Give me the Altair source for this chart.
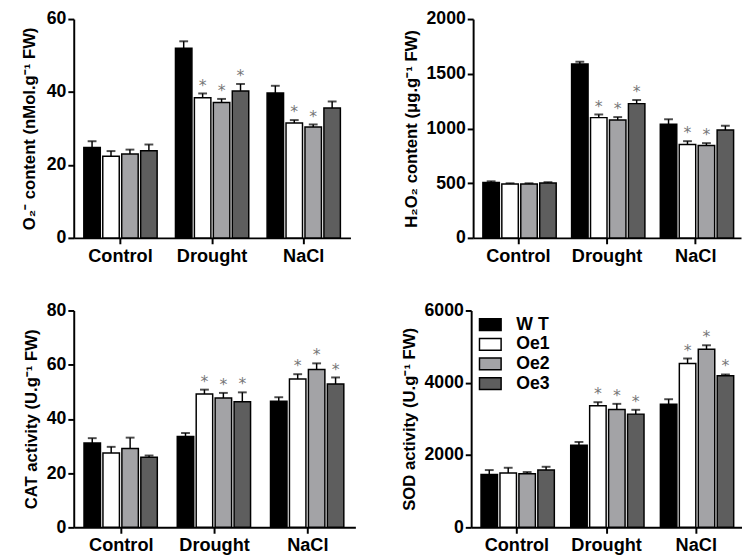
import altair as alt
import pandas as pd

groups = ["Control", "Drought", "NaCl"]
lines = ["W T", "Oe1", "Oe2", "Oe3"]
colors = ["#000000", "#ffffff", "#a3a3a6", "#5e5e5e"]

o2_mean = [24.8, 22.4, 23.0, 23.9, 52.0, 38.4, 37.1, 40.3, 39.7, 31.5, 30.4, 35.6]
o2_err = [1.7, 1.4, 1.2, 1.7, 1.9, 1.2, 1.0, 1.9, 2.0, 0.8, 0.7, 1.8]
o2_sig = [0, 0, 0, 0, 0, 1, 1, 1, 0, 1, 1, 0]

h2o2_mean = [507, 493, 493, 501, 1590, 1099, 1078, 1227, 1039, 854, 845, 985]
h2o2_err = [10, 6, 6, 8, 20, 29, 26, 33, 45, 30, 21, 39]
h2o2_sig = [0, 0, 0, 0, 0, 1, 1, 1, 0, 1, 1, 0]

cat_mean = [31.1, 27.4, 29.1, 25.9, 33.5, 49.2, 47.7, 46.3, 46.5, 54.7, 58.2, 52.9]
cat_err = [1.8, 2.3, 4.0, 0.6, 1.3, 1.6, 1.9, 3.5, 1.5, 1.8, 2.3, 2.4]
cat_sig = [0, 0, 0, 0, 0, 1, 1, 1, 0, 1, 1, 1]

sod_mean = [1466, 1502, 1484, 1585, 2272, 3362, 3261, 3133, 3408, 4534, 4928, 4195]
sod_err = [119, 147, 46, 91, 91, 101, 156, 119, 137, 138, 110, 37]
sod_sig = [0, 0, 0, 0, 0, 1, 1, 1, 0, 1, 1, 1]

FONT = "Liberation Sans"


def panel(mean, err, sig, title, ymax, ticks, width, height, show_legend=False,
          title_pad=6):
    rows = []
    i = 0
    for g in groups:
        for ln in lines:
            rows.append({"group": g, "line": ln, "mean": mean[i],
                         "top": mean[i] + err[i], "sig": sig[i]})
            i += 1
    df = pd.DataFrame(rows)
    base = alt.Chart(df).encode(
        x=alt.X("group:N", sort=groups, title=None,
                scale=alt.Scale(paddingInner=0.2, paddingOuter=0.11),
                axis=alt.Axis(labelAngle=0, labelFontSize=18.5, labelPadding=3)),
        xOffset=alt.XOffset("line:N", sort=lines,
                            scale=alt.Scale(paddingInner=0.13, paddingOuter=0.0)),
    )
    yscale = alt.Scale(domain=[0, ymax], nice=False)
    if show_legend:
        legend = alt.Legend(
            title=None, orient="none", legendX=9, legendY=4,
            symbolType="M-1.16,-0.63H1.16V0.63H-1.16Z", symbolSize=361,
            symbolStrokeColor="black", symbolStrokeWidth=1.5,
            labelFontSize=18, labelFontWeight="bold", labelFont=FONT,
            labelColor="black", rowPadding=0, labelOffset=16,
        )
        color = alt.Color("line:N", sort=lines,
                          scale=alt.Scale(domain=lines, range=colors),
                          legend=legend)
    else:
        color = alt.Color("line:N", sort=lines,
                          scale=alt.Scale(domain=lines, range=colors),
                          legend=None)
    bars = base.mark_bar(stroke="black", strokeWidth=1.5).encode(
        y=alt.Y("mean:Q", scale=yscale, title=title,
                axis=alt.Axis(values=ticks, format="d", titlePadding=title_pad)),
        color=color,
    )
    rules = base.mark_rule(strokeWidth=1.5, color="black").encode(
        y=alt.Y("mean:Q", scale=yscale), y2="top:Q")
    caps = base.mark_tick(size=9, thickness=2, color="black").encode(
        y=alt.Y("top:Q", scale=yscale))
    stars = base.transform_filter("datum.sig == 1").mark_text(
        text="*", dy=-8, fontSize=16, color="#767676", font="DejaVu Sans"
    ).encode(y=alt.Y("top:Q", scale=yscale))
    return alt.layer(rules, caps, bars, stars).properties(width=width, height=height)


p1 = panel(o2_mean, o2_err, o2_sig, "O₂⁻ content (nMol.g⁻¹ FW)", 60, [0, 20, 40, 60],
           282, 223, title_pad=8)
p2 = panel(h2o2_mean, h2o2_err, h2o2_sig, "H₂O₂ content (μg.g⁻¹ FW)", 2000,
           [0, 500, 1000, 1500, 2000], 273, 223)
p3 = panel(cat_mean, cat_err, cat_sig, "CAT activity (U.g⁻¹ FW)", 80, [0, 20, 40, 60, 80],
           287, 221)
p4 = panel(sod_mean, sod_err, sod_sig, "SOD activity (U.g⁻¹ FW)", 6000,
           [0, 2000, 4000, 6000], 276, 221, show_legend=True)

top = alt.hconcat(p1, p2, spacing=52).resolve_scale(color="independent")
bottom = alt.hconcat(p3, p4, spacing=45).resolve_scale(color="independent")

chart = alt.vconcat(top, bottom, spacing=37).resolve_scale(
    color="independent"
).properties(
    padding={"left": 12, "top": -3, "right": 0, "bottom": 0},
).configure(
    font=FONT,
).configure_view(stroke=None).configure_axis(
    grid=False, domainColor="black", domainWidth=2, tickColor="black",
    tickWidth=2, tickSize=6, labelColor="black", labelFont=FONT,
    labelFontWeight="bold", labelFontSize=18, titleFont=FONT,
    titleFontWeight="bold", titleFontSize=17, titleColor="black",
)

chart.save("out.html", embed_options={"renderer": "svg", "actions": False})
